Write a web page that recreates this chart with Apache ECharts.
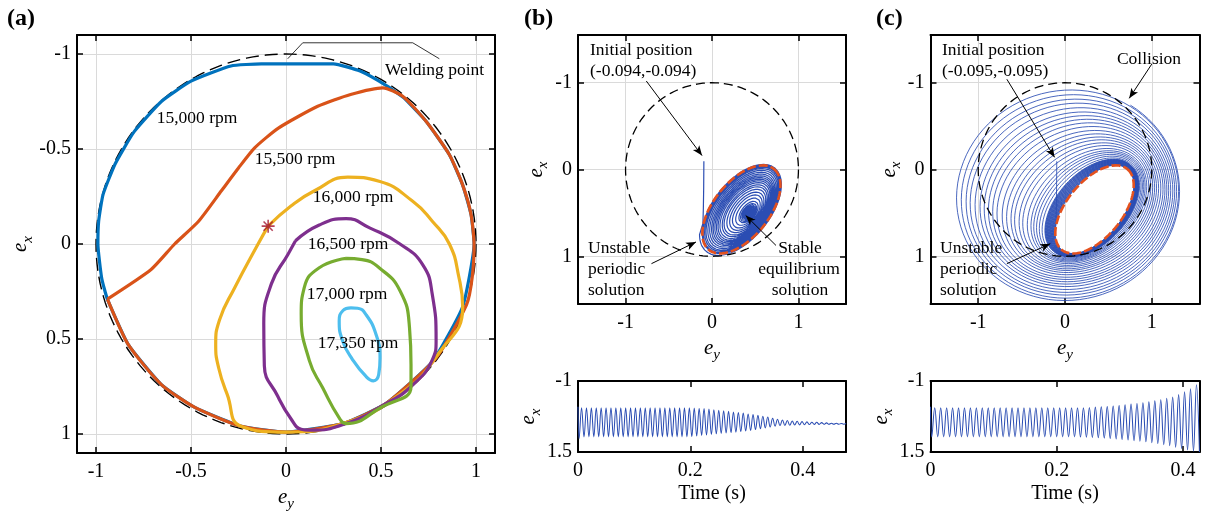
<!DOCTYPE html>
<html><head><meta charset="utf-8">
<script src="https://cdn.jsdelivr.net/npm/echarts@6/dist/echarts.min.js"></script>
<style>html,body{margin:0;padding:0;background:#fff}#c{width:1207px;height:517px}</style>
</head><body><div id="c"></div>
<script>
// ================= DATA =================
// Panel (a): bearing-centre orbits [e_y, e_x] at several speeds
const rpmLabels = ['15,000 rpm','15,500 rpm','16,000 rpm','16,500 rpm','17,000 rpm','17,350 rpm'];
const orbit15000 = [[0.62,-0.77],[0.535,-0.83],[0.39,-0.91],[0.25,-0.948],[0.01,-0.948],[-0.13,-0.948],[-0.29,-0.937],[-0.5,-0.857],[-0.656,-0.75],[-0.80,-0.59],[-0.90,-0.42],[-0.963,-0.26],[-0.986,-0.12],[-0.99,0.0],[-0.97,0.18],[-0.94,0.29],[-0.83,0.53],[-0.656,0.74],[-0.48,0.86],[-0.235,0.96],[0.0,0.99],[0.3,0.945],[0.526,0.84],[0.77,0.62],[0.93,0.33],[0.99,0.0],[0.974,-0.155],[0.93,-0.31],[0.86,-0.47],[0.737,-0.646],[0.62,-0.77]];
const orbit15500 = [[-0.94,0.29],[-0.71,0.134],[-0.586,0.0],[-0.46,-0.12],[-0.34,-0.28],[-0.25,-0.40],[-0.165,-0.506],[-0.04,-0.61],[0.167,-0.725],[0.34,-0.787],[0.51,-0.822],[0.614,-0.778],[0.737,-0.646],[0.86,-0.47],[0.93,-0.31],[0.974,-0.155],[0.99,0.0],[0.98,0.175],[0.95,0.32],[0.79,0.6],[0.526,0.84],[0.3,0.945],[0.0,0.99],[-0.235,0.96],[-0.48,0.86],[-0.656,0.74],[-0.83,0.53],[-0.94,0.29]];
const orbit16000 = [[-0.094,-0.094],[0.026,-0.2],[0.15,-0.28],[0.325,-0.352],[0.49,-0.33],[0.667,-0.225],[0.77,-0.12],[0.86,0.0],[0.91,0.175],[0.93,0.33],[0.8,0.58],[0.6,0.79],[0.3,0.945],[0.0,0.99],[-0.235,0.96],[-0.31,0.79],[-0.355,0.65],[-0.37,0.53],[-0.35,0.40],[-0.27,0.23],[-0.147,0.0],[-0.094,-0.094]];
const orbit16500 = [[0.05,-0.017],[0.175,-0.1],[0.316,-0.134],[0.44,-0.085],[0.6,0.0],[0.72,0.11],[0.77,0.266],[0.79,0.51],[0.77,0.61],[0.658,0.75],[0.526,0.84],[0.316,0.945],[0.123,0.98],[0.08,0.975],[0.026,0.92],[-0.044,0.80],[-0.114,0.64],[-0.117,0.42],[-0.077,0.21],[0.01,0.055],[0.05,-0.017]];
const orbit17000 = [[0.316,0.076],[0.40,0.082],[0.49,0.125],[0.60,0.246],[0.65,0.44],[0.658,0.634],[0.658,0.75],[0.5,0.86],[0.316,0.945],[0.28,0.915],[0.193,0.757],[0.123,0.614],[0.08,0.37],[0.096,0.23],[0.175,0.125],[0.316,0.076]];
const orbit17350 = [[0.342,0.336],[0.377,0.338],[0.42,0.37],[0.474,0.476],[0.495,0.6],[0.488,0.687],[0.46,0.72],[0.42,0.696],[0.35,0.608],[0.298,0.51],[0.28,0.405],[0.30,0.35],[0.342,0.336]];
const initialPointA = [-0.094, -0.094];
const weldingBracket = [[0.009,-0.975],[0.088,-1.059],[0.667,-1.059],[0.807,-0.975]];
const clearanceRadius = 1;

// Unstable periodic solution (ellipse): [centre e_y, centre e_x, semi-major, semi-minor, tilt deg]
const unstableEllipse = [0.34, 0.46, 0.60, 0.32, 51];

// Panel (b): start, stable equilibrium, per-cycle e_x troughs / peaks
const bInitialDrop = [[-0.094,-0.094],[-0.096,0.2],[-0.1,0.45],[-0.105,0.62]];
const bEquilibrium = [0.44, 0.51];
const bTrough = [1.03,0.97,0.97,0.97,0.97,0.97,0.97,0.97,0.97,0.97,0.97,0.97,0.97,0.97,0.97,0.97,0.97,0.97,0.97,0.97,0.97,0.97,0.97,
  0.96,0.94,0.92,0.90,0.88,0.86,0.845,0.83,0.815,0.80,0.78,0.76,0.74,0.71,0.68,0.65,0.62,0.59,0.575,0.565,0.56,0.55,0.545,0.54,0.535,0.53,0.528,0.526,0.525,0.524,0.523,0.522];
const bPeak = [-0.06,-0.06,-0.06,-0.06,-0.06,-0.06,-0.06,-0.06,-0.06,-0.06,-0.06,-0.06,-0.06,-0.06,-0.06,-0.06,-0.06,-0.06,-0.06,-0.06,-0.06,-0.06,-0.06,
  -0.05,-0.04,-0.03,-0.01,0.01,0.03,0.05,0.07,0.09,0.11,0.13,0.16,0.18,0.21,0.24,0.27,0.31,0.35,0.37,0.39,0.41,0.42,0.43,0.44,0.45,0.455,0.465,0.475,0.485,0.49,0.495,0.50];
const bPeriod = 0.00872, bStart = 0.002, bTimeMax = 0.477;

// Panel (c): start, outermost loop ellipse, leftmost e_y of each loop (phase plot), e_x troughs / peaks (time trace)
const cInitialDrop = [[-0.095,-0.095],[-0.097,0.2],[-0.1,0.45],[-0.105,0.62]];
const cOuterEllipse = [0.035, 0.29, 1.29, 1.215, 15];
const cLoopLeft = [-0.12,-0.125,-0.13,-0.135,-0.14,-0.145,-0.15,-0.155,-0.16,-0.165,-0.17,-0.175,-0.18,-0.185,-0.19,-0.195,-0.2,-0.205,-0.21,-0.215,-0.22,-0.225,
  -0.23,-0.26,-0.29,-0.32,-0.35,-0.38,-0.42,-0.47,-0.51,-0.56,-0.60,-0.65,-0.70,-0.76,-0.81,-0.86,-0.91,-0.96,-1.02,-1.08,-1.13,-1.19,-1.25];
const cCollisionFraction = 0.66;
const cTrough = [0.97,0.97,0.97,0.97,0.97,0.97,0.97,0.97,0.97,0.97,0.97,0.97,0.97,0.97,0.97,0.97,0.97,0.97,0.97,0.97,0.97,0.97,0.97,0.97,0.97,
  0.975,0.98,0.99,1.0,1.01,1.025,1.04,1.06,1.08,1.1,1.12,1.14,1.17,1.2,1.24,1.28,1.33,1.38,1.43,1.47,1.5];
const cPeak = [-0.06,-0.06,-0.06,-0.06,-0.06,-0.06,-0.06,-0.06,-0.06,-0.06,-0.06,-0.06,-0.06,-0.06,-0.06,-0.06,-0.06,-0.06,-0.06,-0.06,-0.06,-0.06,-0.06,-0.06,-0.06,-0.06,
  -0.07,-0.08,-0.09,-0.105,-0.12,-0.135,-0.16,-0.185,-0.21,-0.235,-0.265,-0.3,-0.34,-0.39,-0.44,-0.52,-0.62,-0.73,-0.87];
const cPeriod = 0.00942, cStart = 0.002, cTimeMax = 0.426;

// ================= HELPERS =================
const FONT = '"Liberation Serif","Times New Roman",serif';
const BLUE = '#2b4db3';
function ellipsePoint(p, th){
  const f = p[4]*Math.PI/180, c = Math.cos(th), s = Math.sin(th);
  return [p[0] + p[2]*c*Math.cos(f) + p[3]*s*Math.sin(f),
          p[1] - p[2]*c*Math.sin(f) + p[3]*s*Math.cos(f)];
}
function leftTheta(p){ const f = p[4]*Math.PI/180; return Math.atan2(p[3]*Math.sin(f), p[2]*Math.cos(f)) + Math.PI; }
function lerpP(p, q, t){ return p.map((v,i)=>v + (q[i]-v)*t); }
function ellipseLoop(p){ const out=[]; const n=120; for(let k=0;k<=n;k++) out.push(ellipsePoint(p, 2*Math.PI*k/n)); return out; }
function circle(r){ const out=[]; for(let d=0; d<=360; d+=2){ const t=d*Math.PI/180; out.push([r*Math.cos(t), r*Math.sin(t)]); } return out; }
function spiral(loopParams, startPath, lastFrac){
  const out = startPath.slice(); const N = 90;
  for(let i=0;i<loopParams.length;i++){
    const p0 = loopParams[i], p1 = loopParams[Math.min(i+1, loopParams.length-1)];
    const end = (i === loopParams.length-1) ? lastFrac : 1;
    for(let k=0;k<N*end;k++){
      const s = k/N; const p = lerpP(p0, p1, s);
      out.push(ellipsePoint(p, leftTheta(p) - 2*Math.PI*s));
    }
  }
  return out;
}
function timeTrace(init, troughs, peaks, t0, T){
  const out=[[0, init]];
  for(let i=0;i<troughs.length;i++){
    out.push([t0 + i*T, troughs[i]]);
    if(i < peaks.length) out.push([t0 + (i+0.5)*T, peaks[i]]);
  }
  return out;
}
// (b) loops shrink from the unstable ellipse to the equilibrium
const bAmpRef = bTrough[5] - bPeak[5];
const bLoops = bTrough.map((tr,i)=>{
  const k = (tr - bPeak[i]) / bAmpRef;
  const u = unstableEllipse;
  return [bEquilibrium[0] + k*(u[0]-bEquilibrium[0]), bEquilibrium[1] + k*(u[1]-bEquilibrium[1]), k*u[2], k*u[3], u[4]];
});
// (c) loops grow from the unstable ellipse to the outermost loop
const cLoops = cLoopLeft.map(L => lerpP(unstableEllipse, cOuterEllipse, (L - cLoopLeft[0])/(cLoopLeft[cLoopLeft.length-1] - cLoopLeft[0])));

// ================= AXES =================
const grids = [
  {left:77, top:35, width:418, height:418},
  {left:578, top:35, width:268, height:269},
  {left:930.5, top:35, width:269, height:269},
  {left:578, top:381, width:268, height:71},
  {left:930.5, top:381, width:269, height:71}
];
const lineStyleAxis = {color:'#000', width:2};
const tickStyle = {show:true, inside:true, length:6, lineStyle:{color:'#000', width:1.5}};
const labelStyle = {color:'#000', fontFamily:FONT, fontSize:20};
const gridLine = {show:true, lineStyle:{color:'#dadada', width:1}};
function axisName(main, sub){
  return {
    name:'{e|'+main+'}{s|'+sub+'}',
    nameTextStyle:{rich:{
      e:{fontFamily:FONT, fontStyle:'italic', fontSize:21, color:'#000', verticalAlign:'top', lineHeight:22},
      s:{fontFamily:FONT, fontStyle:'italic', fontSize:15, color:'#000', verticalAlign:'top', lineHeight:16, padding:[10,0,0,0]}
    }}
  };
}
function xMain(gi, min, max, extra){
  return Object.assign({type:'value', gridIndex:gi, min, max, position:'bottom',
    axisLine:{show:true, onZero:false, lineStyle:lineStyleAxis}, axisTick:tickStyle,
    axisLabel:Object.assign({margin:9, showMinLabel:false, showMaxLabel:false}, labelStyle),
    splitLine:gridLine, nameLocation:'middle'}, extra);
}
function yMain(gi, min, max, extra){
  return Object.assign({type:'value', gridIndex:gi, min, max, inverse:true, position:'left',
    axisLine:{show:true, onZero:false, lineStyle:lineStyleAxis}, axisTick:tickStyle,
    axisLabel:Object.assign({margin:6, showMinLabel:false, showMaxLabel:false}, labelStyle),
    splitLine:gridLine, nameLocation:'middle', nameRotate:90}, extra);
}
function mirror(ax, pos){
  return Object.assign({}, ax, {position:pos, name:'', axisLabel:{show:false}, splitLine:{show:false}});
}
const xs = [
  xMain(0,-1.1,1.1, Object.assign({splitNumber:5, nameGap:33}, axisName('e','y'))),
  xMain(1,-1.55,1.55, Object.assign({splitNumber:3, nameGap:33}, axisName('e','y'))),
  xMain(2,-1.55,1.55, Object.assign({splitNumber:3, nameGap:33}, axisName('e','y'))),
  xMain(3,0,bTimeMax, {interval:0.2, axisLabel:Object.assign({margin:9, showMinLabel:true, showMaxLabel:false}, labelStyle), splitLine:{show:false},
      name:'Time (s)', nameGap:32, nameTextStyle:{fontFamily:FONT, fontSize:20, color:'#000'}}),
  xMain(4,0,cTimeMax, {interval:0.2, axisLabel:Object.assign({margin:9, showMinLabel:true, showMaxLabel:false}, labelStyle), splitLine:{show:false},
      name:'Time (s)', nameGap:32, nameTextStyle:{fontFamily:FONT, fontSize:20, color:'#000'}})
];
const ys = [
  yMain(0,-1.1,1.1, Object.assign({splitNumber:5, nameGap:42}, axisName('e','x'))),
  yMain(1,-1.55,1.55, Object.assign({splitNumber:3, nameGap:30}, axisName('e','x'))),
  yMain(2,-1.55,1.55, Object.assign({splitNumber:3, nameGap:30}, axisName('e','x'))),
  yMain(3,-1,1.5, Object.assign({interval:2.5, axisLabel:Object.assign({margin:6, showMinLabel:true, showMaxLabel:true}, labelStyle), splitLine:{show:false}, nameGap:36}, axisName('e','x'))),
  yMain(4,-1,1.5, Object.assign({interval:2.5, axisLabel:Object.assign({margin:6, showMinLabel:true, showMaxLabel:true}, labelStyle), splitLine:{show:false}, nameGap:36}, axisName('e','x')))
];
const xAxes = xs.concat(xs.map(a=>mirror(a,'top')));
const yAxes = ys.concat(ys.map(a=>mirror(a,'right')));

// ================= SERIES =================
const colorsA = ['#0072BD','#D95319','#EDB120','#7E2F8E','#77AC30','#4DBEEE'];
const orbitsA = [orbit15000, orbit15500, orbit16000, orbit16500, orbit17000, orbit17350];
const smoothA = [0.15, 0.2, 0.5, 0.5, 0.5, 0.5];
function lineSeries(gi, data, style, extra){
  return Object.assign({type:'line', xAxisIndex:gi, yAxisIndex:gi, data, showSymbol:false, symbol:'none',
    lineStyle:style, silent:true, clip:true, animation:false}, extra||{});
}
const circleStyleA = {color:'#000', width:1.4, type:[13,6]};
const circleStyleBC = {color:'#000', width:1.3, type:[9,5]};
const orangeDash = {color:'#E4511E', width:2.6, type:[9,3]};
function arrows(list){
  return {silent:true, symbol:['none','arrow'], symbolSize:[6,10], label:{show:false},
    lineStyle:{color:'#000', width:1, type:'solid'}, animation:false,
    data:list.map(a=>[{coord:a[0]},{coord:a[1]}])};
}
const series = [];
series.push(lineSeries(0, circle(clearanceRadius), circleStyleA));
orbitsA.forEach((d,i)=>series.push(lineSeries(0, d, {color:colorsA[i], width:3.2}, {smooth:smoothA[i]})));
series.push(lineSeries(0, weldingBracket, {color:'#000', width:0.8}));
series.push({type:'scatter', xAxisIndex:0, yAxisIndex:0, data:[initialPointA], symbolSize:13, silent:true,
  symbol:'path://M-1,-0.12L1,-0.12L1,0.12L-1,0.12Z M-0.12,-1L0.12,-1L0.12,1L-0.12,1Z M-0.79,-0.62L-0.62,-0.79L0.79,0.62L0.62,0.79Z M0.62,-0.79L0.79,-0.62L-0.62,0.79L-0.79,0.62Z',
  itemStyle:{color:'#A2142F'}, z:5});
// (b)
series.push(lineSeries(1, spiral(bLoops, bInitialDrop, 1), {color:BLUE, width:1.2}));
series.push(lineSeries(1, circle(clearanceRadius), circleStyleBC, {markLine:arrows([
  [[-0.76,-1.02],[-0.115,-0.16]], [[-0.70,1.085],[-0.185,0.835]], [[0.74,0.875],[0.39,0.53]] ])}));
series.push(lineSeries(1, ellipseLoop(unstableEllipse), orangeDash));
// (c)
series.push(lineSeries(2, spiral(cLoops, cInitialDrop, cCollisionFraction), {color:BLUE, width:0.85}));
series.push(lineSeries(2, circle(clearanceRadius), circleStyleBC, {markLine:arrows([
  [[-0.67,-1.04],[-0.12,-0.14]], [[1.0,-1.215],[0.74,-0.82]], [[-0.67,1.085],[-0.17,0.855]] ])}));
series.push(lineSeries(2, ellipseLoop(unstableEllipse), orangeDash));
// time traces
series.push(lineSeries(3, timeTrace(bInitialDrop[0][1], bTrough, bPeak, bStart, bPeriod), {color:BLUE, width:1.05}, {smooth:0.4}));
series.push(lineSeries(4, timeTrace(cInitialDrop[0][1], cTrough, cPeak, cStart, cPeriod), {color:BLUE, width:1.05}, {smooth:0.4}));

// ================= TEXT =================
function txt(text, x, y, align, size, weight){
  return {type:'text', x, y, silent:true, z:100,
    style:{text, fill:'#000', font:(weight||'normal')+' '+(size||17)+'px '+FONT, align:align||'left', verticalAlign:'middle'}};
}
const graphic = [
  txt('(a)', 7, 19, 'left', 24, 'bold'),
  txt('(b)', 524, 19, 'left', 24, 'bold'),
  txt('(c)', 876, 19, 'left', 24, 'bold'),
  txt(rpmLabels[0], 197, 118, 'center', 17.5),
  txt(rpmLabels[1], 295, 159, 'center', 17.5),
  txt(rpmLabels[2], 353, 197, 'center', 17.5),
  txt(rpmLabels[3], 348, 244, 'center', 17.5),
  txt(rpmLabels[4], 347, 294, 'center', 17.5),
  txt(rpmLabels[5], 358, 343, 'center', 17.5),
  txt('Welding point', 385, 70, 'left', 17.5),
  txt('Initial position', 590, 50, 'left', 17.5),
  txt('(-0.094,-0.094)', 590, 71, 'left', 17.5),
  txt('Unstable', 588, 248, 'left', 17.5),
  txt('periodic', 588, 269, 'left', 17.5),
  txt('solution', 588, 290, 'left', 17.5),
  txt('Stable', 800, 248, 'center', 17.5),
  txt('equilibrium', 799, 269, 'center', 17.5),
  txt('solution', 800, 290, 'center', 17.5),
  txt('Initial position', 942, 50, 'left', 17.5),
  txt('(-0.095,-0.095)', 942, 71, 'left', 17.5),
  txt('Collision', 1149, 59, 'center', 17.5),
  txt('Unstable', 940, 248, 'left', 17.5),
  txt('periodic', 940, 269, 'left', 17.5),
  txt('solution', 940, 290, 'left', 17.5)
];

const chart = echarts.init(document.getElementById('c'), null, {renderer:'canvas', width:1207, height:517});
chart.setOption({animation:false, backgroundColor:'#fff', grid:grids, xAxis:xAxes, yAxis:yAxes, series, graphic});
</script></body></html>
